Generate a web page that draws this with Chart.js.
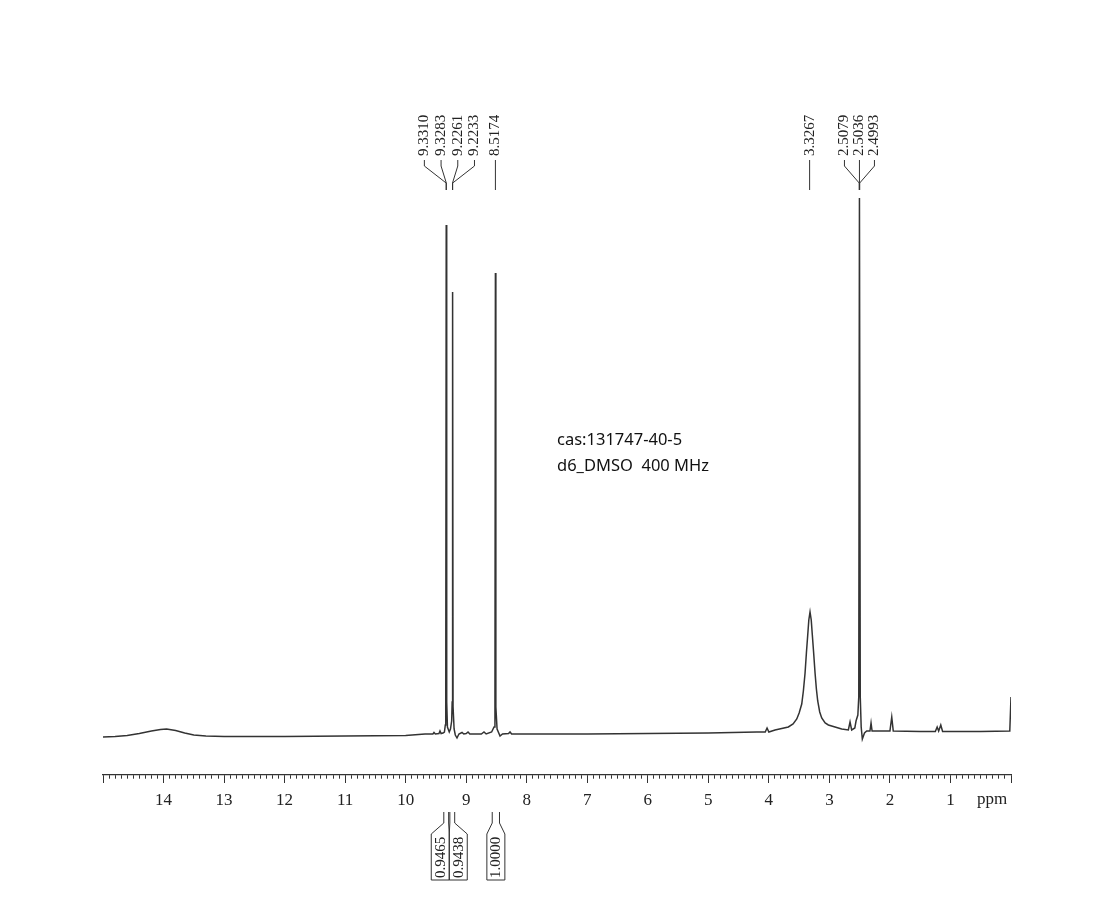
<!DOCTYPE html>
<html>
<head>
<meta charset="utf-8">
<script src="https://cdn.jsdelivr.net/npm/chart.js@4"></script>
<style>
  html, body { margin: 0; padding: 0; background: #fff; }
  #wrap { width: 1114px; height: 903px; }
</style>
</head>
<body>
<div id="wrap"><canvas id="nmr" width="1114" height="903"></canvas></div>
<script>
// spectrum: chemical shift (ppm) and intensity above baseline
var ppm = [
  15.0, 14.8, 14.6, 14.4, 14.2, 14.05, 13.95, 13.8, 13.65, 13.5, 13.3, 13.0, 12.0, 11.0, 10.0,
  9.68, 9.55, 9.532, 9.51, 9.45, 9.433, 9.415, 9.383, 9.36, 9.345, 9.338, 9.330, 9.322, 9.31,
  9.28, 9.26, 9.24, 9.232, 9.2247, 9.217, 9.20, 9.18, 9.152, 9.12, 9.069, 9.04, 9.0, 8.97, 8.94,
  8.75, 8.706, 8.67, 8.58, 8.54, 8.525, 8.5174, 8.51, 8.49, 8.441, 8.4, 8.3, 8.276, 8.25,
  8.0, 7.0, 6.0, 5.0, 4.2, 4.06, 4.03, 4.0,
  3.898, 3.678, 3.60, 3.539, 3.50, 3.457, 3.43, 3.402, 3.38, 3.358, 3.34, 3.320, 3.30, 3.282,
  3.26, 3.237, 3.215, 3.193, 3.16, 3.127, 3.07, 3.017,
  2.797, 2.687, 2.659, 2.632, 2.58, 2.56, 2.53, 2.515, 2.5036, 2.49, 2.475, 2.456, 2.42, 2.384,
  2.33, 2.312, 2.295, 2.0, 1.97, 1.945, 1.5, 1.25, 1.22, 1.195, 1.16, 1.13, 0.5, 0.02, 0.0
];
var intensity = [
  0, 0.5, 1.5, 3.5, 6, 7.5, 8, 6.5, 4, 2, 1, 0.5, 0.5, 1, 1.5,
  3, 3, 4.5, 3, 3.5, 6, 3.5, 4, 5, 12, 35, 512, 35, 10,
  5, 8, 16, 35, 445, 30, 8, 2, -1, 3, 4.5, 3, 3.5, 5, 3,
  3, 5, 3, 5, 10, 35, 464, 30, 8, 1, 3, 3.5, 5, 3,
  3, 3, 3.5, 4, 5, 5, 9, 5,
  7, 10, 13, 18, 24, 33, 46, 64, 84, 102, 117, 125, 117, 102,
  84, 64, 48, 36, 25, 19, 14, 12,
  8, 7, 15, 7, 9, 16, 22, 40, 539, 40, 10, -2, 4, 6,
  6, 14, 6, 6, 20, 6, 5.5, 5.5, 10, 6, 12, 5.5, 5.5, 6, 40
];

// peak picking labels, in groups
var peakGroups = [
  [9.3310, 9.3283, 9.2261, 9.2233],
  [8.5174],
  [3.3267],
  [2.5079, 2.5036, 2.4993]
];
var groupSpacing = [16.7, 0, 0, 15];

// integrals
var intFrom = [9.37, 9.27, 8.57];
var intTo = [9.29, 9.19, 8.45];
var intValues = ["0.9465", "0.9438", "1.0000"];
var intClusters = [[0, 1], [2]];

var tickFont = "Liberation Serif";

function isWhole(v) {
  return Math.abs(v - Math.round(v)) < 1e-6;
}

var annotations = {
  id: "annotations",
  afterDraw: function (chart) {
    var c = chart.ctx;
    var xs = chart.scales.x;
    c.save();
    c.strokeStyle = "#333";
    c.fillStyle = "#222";
    c.lineWidth = 1;

    // peak labels with connector lines
    c.font = "15px '" + tickFont + "'";
    c.textAlign = "left";
    c.textBaseline = "middle";
    peakGroups.forEach(function (grp, g) {
      var px = grp.map(function (p) { return xs.getPixelForValue(p); });
      var mean = px.reduce(function (a, b) { return a + b; }, 0) / px.length;
      grp.forEach(function (p, i) {
        var xl = mean + (i - (grp.length - 1) / 2) * groupSpacing[g];
        c.beginPath();
        c.moveTo(xl, 160);
        c.lineTo(xl, 166);
        c.lineTo(px[i], 183);
        c.lineTo(px[i], 190);
        c.stroke();
        c.save();
        c.translate(xl, 156);
        c.rotate(-Math.PI / 2);
        c.fillText(p.toFixed(4), 0, 0);
        c.restore();
      });
    });

    // integral brackets under the axis
    var boxW = 18;
    intClusters.forEach(function (cl) {
      var centers = cl.map(function (k) {
        return (xs.getPixelForValue(intFrom[k]) + xs.getPixelForValue(intTo[k])) / 2;
      });
      var mid = centers.reduce(function (a, b) { return a + b; }, 0) / centers.length;
      cl.forEach(function (k, i) {
        var xa = xs.getPixelForValue(intFrom[k]);
        var xb = xs.getPixelForValue(intTo[k]);
        var xc = mid + (i - (cl.length - 1) / 2) * boxW;
        c.beginPath();
        c.moveTo(xa, 812);
        c.lineTo(xa, 823);
        c.lineTo(xc - boxW / 2, 834);
        c.lineTo(xc - boxW / 2, 880);
        c.lineTo(xc + boxW / 2, 880);
        c.lineTo(xc + boxW / 2, 834);
        c.lineTo(xb, 823);
        c.lineTo(xb, 812);
        c.stroke();
        c.save();
        c.translate(xc + 0.5, 878);
        c.rotate(-Math.PI / 2);
        c.textAlign = "left";
        c.fillText(intValues[k], 0, 0);
        c.restore();
      });
    });

    // axis unit
    c.font = "17px '" + tickFont + "'";
    c.textAlign = "center";
    c.textBaseline = "top";
    c.fillText("ppm", 992, 791);

    // sample note
    c.font = "16.5px 'Noto Sans'";
    c.textAlign = "left";
    c.textBaseline = "alphabetic";
    c.fillStyle = "#111";
    c.fillText("cas:131747-40-5", 557, 445);
    c.fillText("d6_DMSO  400 MHz", 557, 471);
    c.restore();
  }
};

var ctx = document.getElementById("nmr");

var nmrChart = new Chart(ctx, {
  type: "line",
  data: {
    datasets: [
      {
        data: ppm.map(function (p, i) { return { x: p, y: intensity[i] }; }),
        borderColor: "#333",
        borderWidth: 1.5,
        pointRadius: 0,
        tension: 0,
        fill: false
      }
    ]
  },
  options: {
    responsive: false,
    animation: false,
    devicePixelRatio: 1,
    layout: { padding: { left: 103, right: 103, top: 100, bottom: 88 } },
    plugins: { legend: { display: false }, tooltip: { enabled: false } },
    scales: {
      x: {
        type: "linear",
        reverse: true,
        min: 0,
        max: 15,
        border: { display: true, color: "#333", width: 1.2 },
        grid: {
          drawOnChartArea: false,
          drawTicks: true,
          tickLength: 8,
          color: "#333",
          tickColor: "#333",
          tickBorderDash: function (c) {
            return isWhole(c.tick.value) ? [] : [3.5, 20];
          }
        },
        ticks: {
          stepSize: 0.1,
          autoSkip: false,
          maxRotation: 0,
          padding: 7,
          color: "#222",
          font: { family: tickFont, size: 17 },
          callback: function (v) {
            var r = Math.round(v);
            if (!isWhole(v) || r === 0 || r === 15) return "";
            return String(r);
          }
        },
        afterFit: function (s) { s.height = 40; }
      },
      y: { display: false, min: -38, max: 637 }
    }
  },
  plugins: [annotations]
});
</script>
</body>
</html>
